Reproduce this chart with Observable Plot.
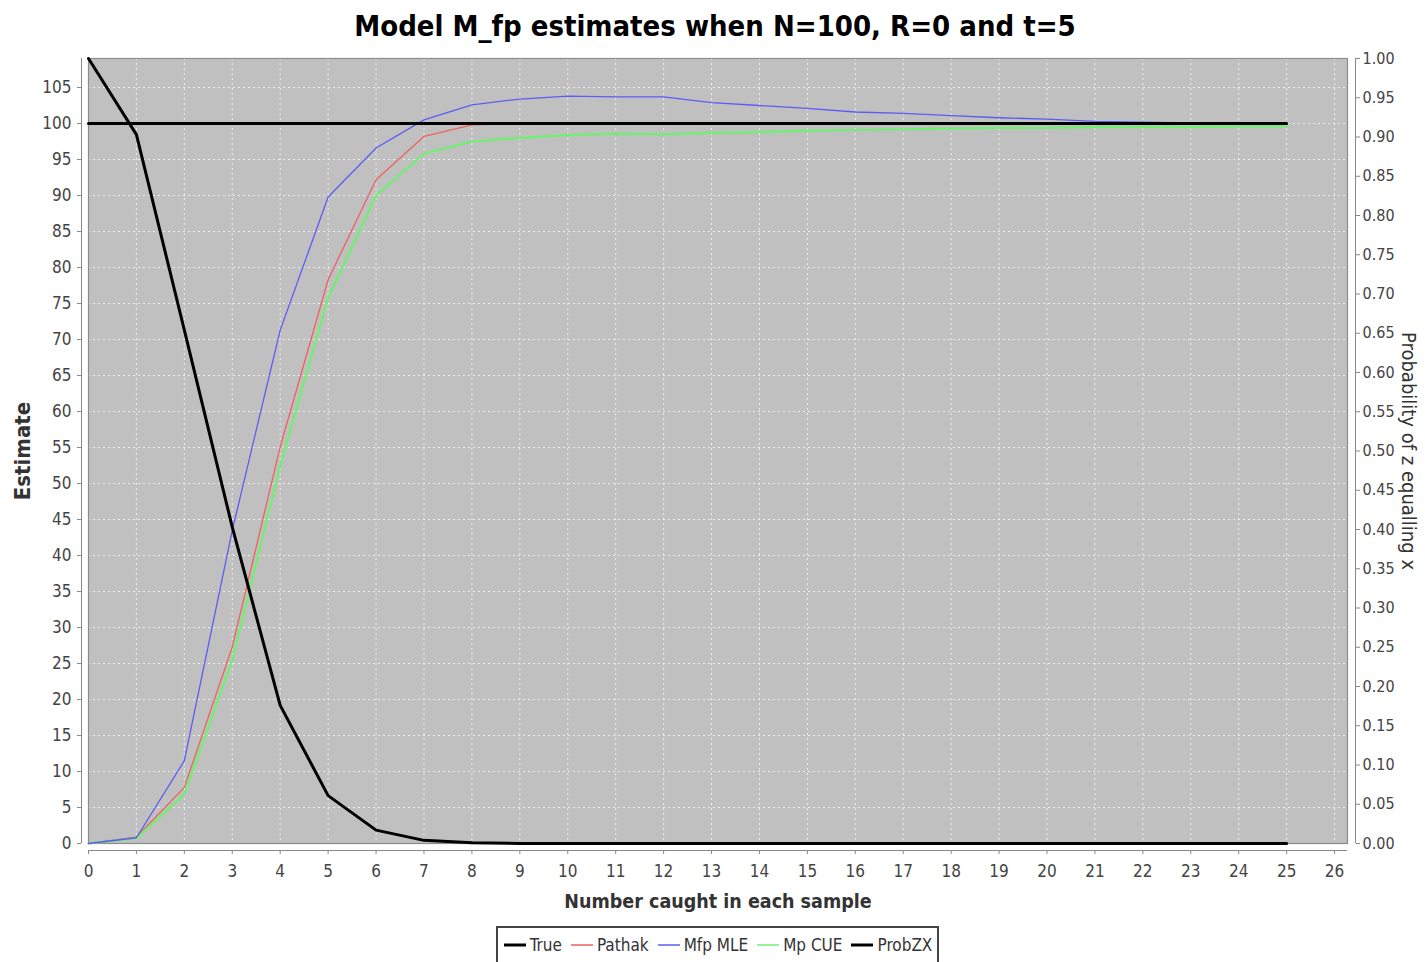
<!DOCTYPE html>
<html>
<head>
<meta charset="utf-8">
<script src="https://cdn.jsdelivr.net/npm/d3@7"></script>
<script src="https://cdn.jsdelivr.net/npm/@observablehq/plot@0.6"></script>
<style>
  body { margin: 0; background: #fff; font-family: "DejaVu Sans Condensed", "DejaVu Sans", sans-serif; }
  #wrap { position: relative; width: 1425px; height: 962px; overflow: hidden; background: #fff; }
  #title { position: absolute; left: 0; top: 6px; width: 1430px; text-align: center; font-weight: bold; font-size: 29px; color: #000; line-height: 40px; }
  #chart { position: absolute; left: 0; top: 50px; }
  #legend { position: absolute; top: 926px; left: 5px; width: 1425px; display: flex; justify-content: center; }
  #legend .box { border: 2px solid #444; display: flex; align-items: center; height: 34px; padding: 0 5px; font-size: 17px; color: #333; }
  #legend .item { display: flex; align-items: center; margin-right: 8px; }
  #legend .item:last-child { margin-right: 0; }
  #legend svg { margin-right: 3px; }
</style>
</head>
<body>
<div id="wrap">
  <div id="title">Model M_fp estimates when N=100, R=0 and t=5</div>
  <div id="chart"></div>
  <div id="legend"><div class="box"></div></div>
</div>
<script>
// ---- data ----
const xs = [0,1,2,3,4,5,6,7,8,9,10,11,12,13,14,15,16,17,18,19,20,21,22,23,24,25];
const trueVals = [100,100,100,100,100,100,100,100,100,100,100,100,100,100,100,100,100,100,100,100,100,100,100,100,100,100];
const pathak = [0,0.9,7.8,27.3,55.1,78.3,92.2,98.2,99.8,100,100,100,100,100,100,100,100,100,100,100,100,100,100,100,100,100];
const mfpMLE = [0,0.8,11.5,43.5,71.3,89.8,96.6,100.5,102.6,103.4,103.8,103.7,103.7,102.9,102.5,102.1,101.6,101.4,101.1,100.8,100.6,100.3,100.2,100.1,100.1,100.0];
const mpCUE = [0,0.7,6.9,25.5,52.5,75.8,90.0,95.8,97.5,98.0,98.4,98.6,98.5,98.7,98.8,99.0,99.1,99.2,99.3,99.4,99.4,99.5,99.5,99.5,99.6,99.6];
const probZX = [1.0,0.903,0.654,0.403,0.176,0.061,0.017,0.004,0.001,0,0,0,0,0,0,0,0,0,0,0,0,0,0,0,0,0];

const xTicks = d3.range(0, 27, 1);
const yTicks = d3.range(0, 106, 5);
const probTicks = d3.range(0, 21).map(i => i * 0.05);

const seriesNames = ["True", "Pathak", "Mfp MLE", "Mp CUE", "ProbZX"];
const seriesColors = ["#000000", "#f06060", "#5c5cf5", "#70f070", "#000000"];
const seriesWidths = [3, 1.3, 1.3, 2.2, 3];

const xMax = 26.27;
const yMax = 109.03; // left axis top; right axis 1.00 maps here

const rows = (vals, name, scale = 1) => xs.map((x, i) => ({x, y: vals[i] * scale, name}));

const fontStack = '"DejaVu Sans Condensed", "DejaVu Sans", sans-serif';

const chart = Plot.plot({
  width: 1425,
  height: 870,
  marginLeft: 88,
  marginRight: 78,
  marginTop: 8,
  marginBottom: 77,
  style: { fontFamily: fontStack, fontSize: "17px", background: "transparent" },
  x: { domain: [0, xMax] },
  y: { domain: [0, yMax] },
  marks: [
    Plot.frame({ fill: "#c0c0c0", stroke: "none" }),
    Plot.ruleY(yTicks.filter(d => d > 0), { stroke: "#ffffff", strokeOpacity: 0.7, strokeDasharray: "2,3" }),
    Plot.ruleX(xTicks.filter(d => d > 0), { stroke: "#ffffff", strokeOpacity: 0.7, strokeDasharray: "2,3" }),
    Plot.frame({ stroke: "#8c8c8c", strokeWidth: 1.2 }),
    Plot.line(rows(pathak, "Pathak"), { x: "x", y: "y", stroke: seriesColors[1], strokeWidth: seriesWidths[1] }),
    Plot.line(rows(mpCUE, "Mp CUE"), { x: "x", y: "y", stroke: seriesColors[3], strokeWidth: seriesWidths[3] }),
    Plot.line(rows(mfpMLE, "Mfp MLE"), { x: "x", y: "y", stroke: seriesColors[2], strokeWidth: seriesWidths[2] }),
    Plot.line(rows(trueVals, "True"), { x: "x", y: "y", stroke: seriesColors[0], strokeWidth: seriesWidths[0] }),
    Plot.line(rows(probZX, "ProbZX", yMax), { x: "x", y: "y", stroke: seriesColors[4], strokeWidth: seriesWidths[4], strokeLinejoin: "round" }),
    // axis lines (offset from the plot area)
    Plot.ruleX([0], { dx: -7, stroke: "#888" }),
    Plot.ruleX([xMax], { dx: 8, stroke: "#888" }),
    Plot.ruleY([0], { dy: 7, stroke: "#888" }),
    Plot.axisY(yTicks, { anchor: "left", dx: -7, tickSize: 4, tickPadding: 6, stroke: "#888", fill: "#444", fontSize: 17, label: null }),
    Plot.axisY(probTicks.map(p => p * yMax), { anchor: "right", dx: 8, tickSize: 4, tickPadding: 3, stroke: "#888", fill: "#444", fontSize: 16, label: null,
      tickFormat: d => (d / yMax).toFixed(2) }),
    Plot.axisX(xTicks, { anchor: "bottom", dy: 7, tickSize: 4, tickPadding: 10, stroke: "#888", fill: "#444", fontSize: 17, label: null }),
    Plot.text(["Number caught in each sample"], { text: d => d, frameAnchor: "bottom", dy: 64, fontWeight: "bold", fontSize: 19.5, fill: "#333" }),
    Plot.text(["Estimate"], { text: d => d, frameAnchor: "left", dx: -66, rotate: -90, textAnchor: "middle", fontWeight: "bold", fontSize: 22, fill: "#333" }),
    Plot.text(["Probability of z equalling x"], { text: d => d, frameAnchor: "right", dx: 61, rotate: 90, textAnchor: "middle", fontSize: 20, fill: "#333" })
  ]
});
document.getElementById("chart").appendChild(chart);

// legend
const box = document.querySelector("#legend .box");
seriesNames.forEach((name, i) => {
  const item = document.createElement("div");
  item.className = "item";
  item.innerHTML = `<svg width="24" height="10"><line x1="1" y1="5" x2="23" y2="5" stroke="${seriesColors[i]}" stroke-width="${i === 0 || i === 4 ? 3 : 1.5}"/></svg><span>${name}</span>`;
  box.appendChild(item);
});
</script>
</body>
</html>
